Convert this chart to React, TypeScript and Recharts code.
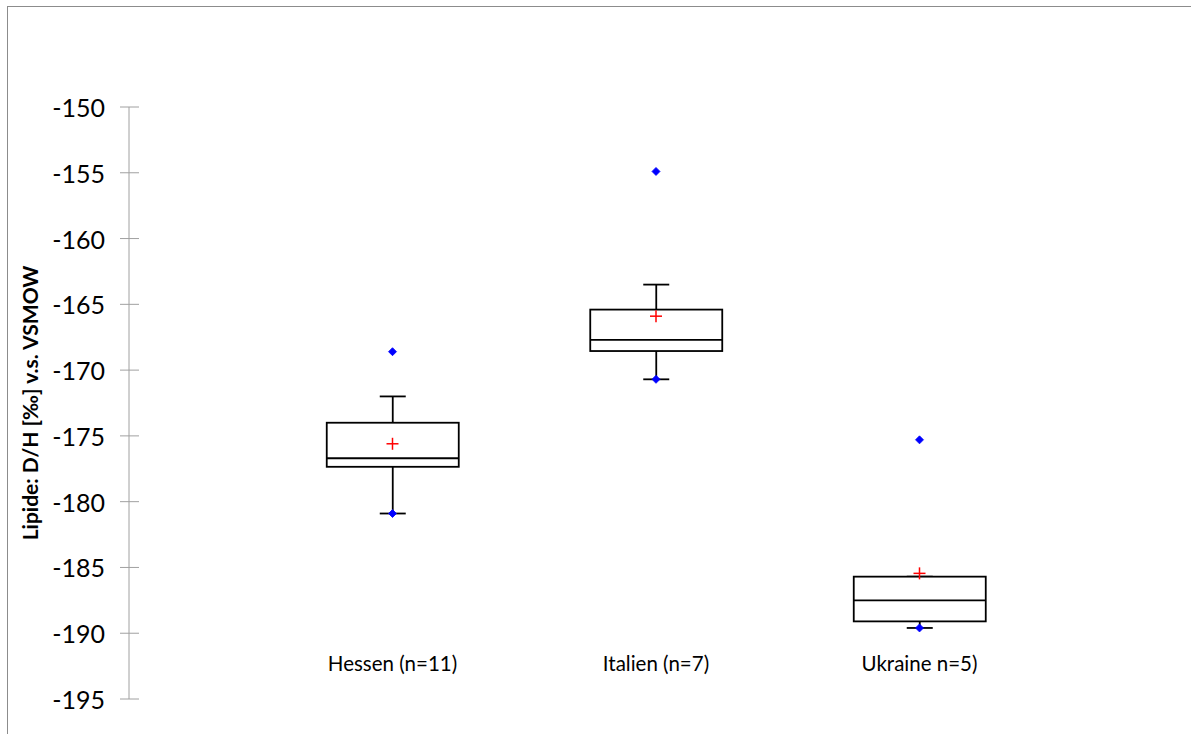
import React from 'react';
import { ComposedChart, Bar, Scatter, XAxis, YAxis } from 'recharts';

const categories = ['Hessen (n=11)', 'Italien (n=7)', 'Ukraine n=5)'];
const positions = [1, 2, 3];
const minVals = [-180.9, -170.7, -189.6];
const q1Vals = [-177.35, -168.55, -189.1];
const medianVals = [-176.7, -167.7, -187.5];
const q3Vals = [-174.0, -165.4, -185.7];
const whiskerHighVals = [-172.0, -163.5, -185.7];
const maxVals = [-168.6, -154.9, -175.3];
const meanVals = [-175.6, -165.9, -185.45];
const yTicks = [-195, -190, -185, -180, -175, -170, -165, -160, -155, -150];

const boxData = categories.map((name, i) => ({
  x: positions[i],
  name,
  min: minVals[i],
  q1: q1Vals[i],
  median: medianVals[i],
  q3: q3Vals[i],
  whiskerHigh: whiskerHighVals[i],
}));

const extremeData = [
  ...positions.map((p, i) => ({ x: p, y: minVals[i] })),
  ...positions.map((p, i) => ({ x: p, y: maxVals[i] })),
];

const meanData = positions.map((p, i) => ({ x: p, y: meanVals[i] }));

const FONT = 'Lato, "Open Sans", sans-serif';
const AXIS_GRAY = '#a0a0a0';

const BoxShape = (props: any) => {
  const { x, y, width, height, payload } = props;
  if (x == null || y == null) return null;
  const top = Math.min(y, y + height);
  const h = Math.abs(height);
  const hi = payload.whiskerHigh;
  const lo = payload.min;
  const py = (v: number) => top + ((hi - v) / (hi - lo)) * h;
  const cx = x + width / 2;
  const capHalf = 13;
  const sw = 1.8;
  return (
    <g>
      <line x1={cx} x2={cx} y1={py(payload.whiskerHigh)} y2={py(payload.q3)} stroke="#000" strokeWidth={sw} />
      <line x1={cx - capHalf} x2={cx + capHalf} y1={py(payload.whiskerHigh)} y2={py(payload.whiskerHigh)} stroke="#000" strokeWidth={sw} />
      <line x1={cx} x2={cx} y1={py(payload.q1)} y2={py(payload.min)} stroke="#000" strokeWidth={sw} />
      <line x1={cx - capHalf} x2={cx + capHalf} y1={py(payload.min)} y2={py(payload.min)} stroke="#000" strokeWidth={sw} />
      <rect x={x} y={py(payload.q3)} width={width} height={py(payload.q1) - py(payload.q3)} fill="#fff" stroke="#000" strokeWidth={sw} />
      <line x1={x} x2={x + width} y1={py(payload.median)} y2={py(payload.median)} stroke="#000" strokeWidth={sw} />
    </g>
  );
};

const DotShape = (props: any) => {
  const { cx, cy } = props;
  if (cx == null || cy == null) return null;
  return <path d={`M${cx},${cy - 4} L${cx + 4},${cy} L${cx},${cy + 4} L${cx - 4},${cy} Z`} fill="#0000ff" stroke="#0000ff" strokeWidth={0.8} strokeLinejoin="round" />;
};

const PlusShape = (props: any) => {
  const { cx, cy } = props;
  if (cx == null || cy == null) return null;
  return (
    <g>
      <line x1={cx - 6} x2={cx + 6} y1={cy} y2={cy} stroke="#ff0000" strokeWidth={1.5} />
      <line x1={cx} x2={cx} y1={cy - 6} y2={cy + 6} stroke="#ff0000" strokeWidth={1.5} />
    </g>
  );
};

const YTick = (props: any) => {
  const { x, y, payload } = props;
  return (
    <g>
      <line x1={x - 9} x2={x + 10} y1={y} y2={y} stroke={AXIS_GRAY} strokeWidth={1} />
      <text x={x - 24} y={y} textAnchor="end" dominantBaseline="central" fontFamily={FONT} fontSize={25} fill="#000">
        {payload.value}
      </text>
    </g>
  );
};

const XTick = (props: any) => {
  const { x, y, payload } = props;
  const idx = positions.indexOf(payload.value);
  return (
    <text x={x} y={y - 28} textAnchor="middle" fontFamily={FONT} fontSize={20.5} fill="#000">
      {idx >= 0 ? categories[idx] : ''}
    </text>
  );
};

export default function App() {
  return (
    <div style={{ position: 'fixed', left: 0, top: 0, width: 1191, height: 734, overflow: 'hidden', background: '#fff' }}>
      <div
        style={{
          position: 'absolute',
          left: 7,
          top: 6,
          width: 1400,
          height: 1000,
          borderLeft: '1px solid #8c8c8c',
          borderTop: '1px solid #8c8c8c',
        }}
      />
      <div style={{ position: 'absolute', left: 0, top: 0 }}>
        <ComposedChart width={1191} height={734} data={boxData} margin={{ top: 107, right: 8, bottom: 0, left: 0 }}>
          <XAxis
            type="number"
            dataKey="x"
            domain={[0, 4]}
            ticks={positions}
            allowDataOverflow
            axisLine={false}
            tickLine={false}
            tickSize={0}
            tickMargin={0}
            height={35}
            tick={<XTick />}
            interval={0}
          />
          <YAxis
            type="number"
            domain={[-195, -150]}
            ticks={yTicks}
            allowDataOverflow
            width={129}
            tickSize={0}
            tickMargin={0}
            tickLine={false}
            axisLine={{ stroke: AXIS_GRAY, strokeWidth: 1 }}
            tick={<YTick />}
            interval={0}
            label={{
              value: 'Lipide: D/H [‰] v.s. VSMOW',
              angle: -90,
              position: 'insideLeft',
              dx: 26,
              style: { textAnchor: 'middle', fontFamily: FONT, fontSize: 21, fontWeight: 700, fill: '#000' },
            }}
          />
          <Bar dataKey={(d: any) => [d.min, d.whiskerHigh]} barSize={132} shape={<BoxShape />} isAnimationActive={false} />
          <Scatter data={meanData} dataKey="y" shape={<PlusShape />} isAnimationActive={false} />
          <Scatter data={extremeData} dataKey="y" shape={<DotShape />} isAnimationActive={false} />
        </ComposedChart>
      </div>
    </div>
  );
}
